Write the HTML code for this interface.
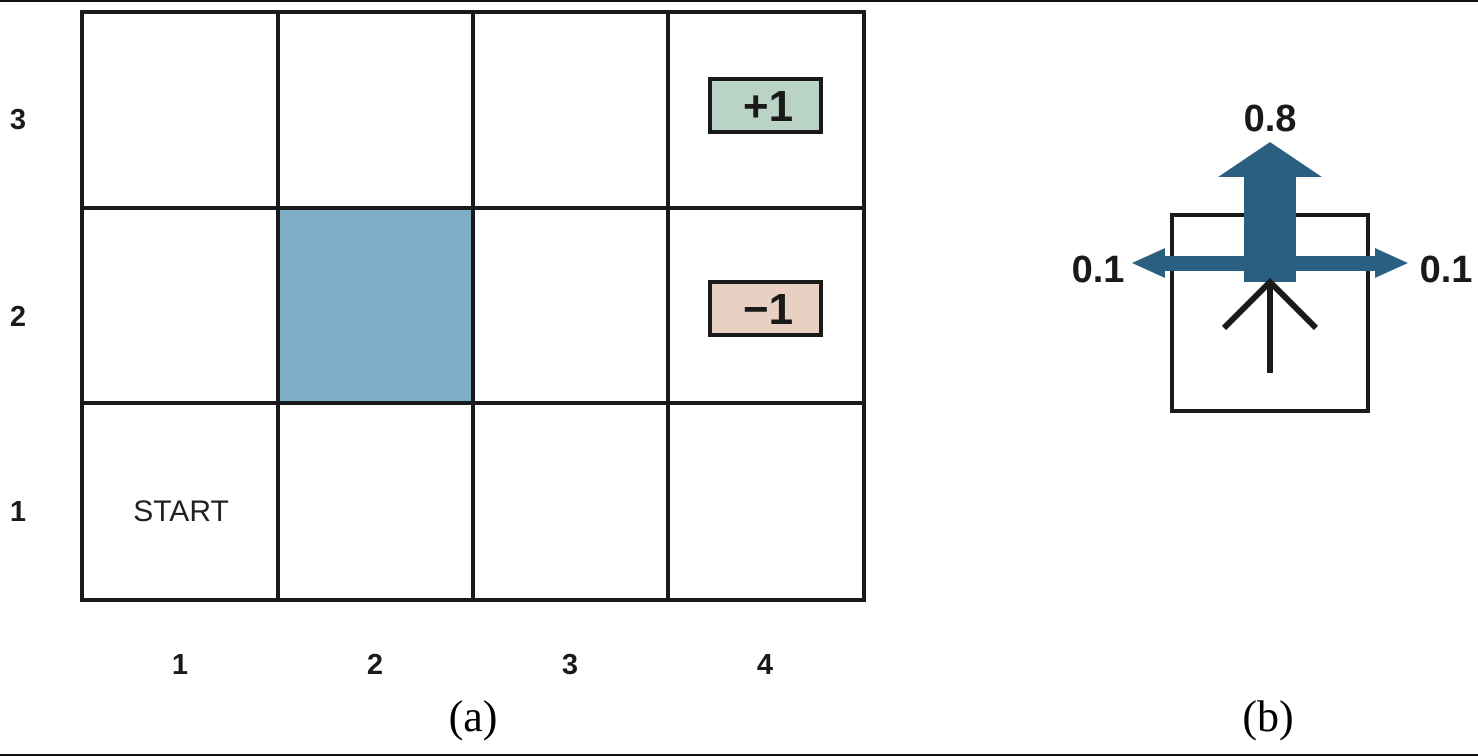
<!DOCTYPE html>
<html><head><meta charset="utf-8"><style>
html,body{margin:0;padding:0;background:#fff;}
svg{display:block;}
text{font-family:"Liberation Sans",sans-serif;}
</style></head><body>
<svg width="1478" height="756" viewBox="0 0 1478 756">
<line x1="0" y1="1" x2="1478" y2="1" stroke="#111" stroke-width="2"/>
<line x1="0" y1="755" x2="1478" y2="755" stroke="#111" stroke-width="2"/>
<rect x="280" y="210" width="191" height="191" fill="#7eaec8"/>
<g stroke="#1a1a1a" stroke-width="4" fill="none">
<rect x="82" y="12" width="782" height="588"/>
<line x1="278" y1="12" x2="278" y2="600"/><line x1="473" y1="12" x2="473" y2="600"/><line x1="668" y1="12" x2="668" y2="600"/>
<line x1="82" y1="208" x2="864" y2="208"/><line x1="82" y1="403" x2="864" y2="403"/>
</g>
<g>
<rect x="710" y="79" width="111" height="53" fill="#b9d3c6" stroke="#1a1a1a" stroke-width="4"/>
<text x="768" y="121" font-size="44" font-weight="bold" text-anchor="middle" fill="#1a1a1a">+1</text></g>
<g>
<rect x="710" y="282" width="111" height="53" fill="#e8d0c2" stroke="#1a1a1a" stroke-width="4"/>
<text x="768" y="324" font-size="44" font-weight="bold" text-anchor="middle" fill="#1a1a1a">−1</text></g>
<text x="181" y="521" font-size="30" text-anchor="middle" fill="#222">START</text>
<g font-size="29" font-weight="bold" fill="#1a1a1a" text-anchor="middle">
<text x="18" y="129">3</text><text x="18" y="326">2</text><text x="18" y="521">1</text></g>
<g font-size="29" font-weight="bold" fill="#1a1a1a" text-anchor="middle">
<text x="180" y="674">1</text><text x="375" y="674">2</text><text x="570" y="674">3</text><text x="765" y="674">4</text></g>
<text x="473" y="731" font-size="44" text-anchor="middle" style="font-family:'Liberation Serif',serif">(a)</text>
<text x="1268" y="731" font-size="44" text-anchor="middle" style="font-family:'Liberation Serif',serif">(b)</text>
<rect x="1172" y="215" width="196" height="196" fill="none" stroke="#1a1a1a" stroke-width="4"/>
<polygon points="1132,263 1165,248 1165,256 1375,256 1375,248 1408,263 1375,278 1375,271 1165,271 1165,278" fill="#2a5f82"/>
<polygon points="1244,282 1244,177 1218,177 1270,142 1322,177 1296,177 1296,282" fill="#2a5f82"/>
<g stroke="#1a1a1a" stroke-width="6" fill="none">
<line x1="1270" y1="373" x2="1270" y2="282"/><polyline points="1224,328 1270,282 1316,328"/></g>
<g font-size="38" font-weight="bold" fill="#1a1a1a" text-anchor="middle">
<text x="1270" y="131">0.8</text><text x="1098" y="282">0.1</text><text x="1446" y="282">0.1</text></g>
</svg>
</body></html>
